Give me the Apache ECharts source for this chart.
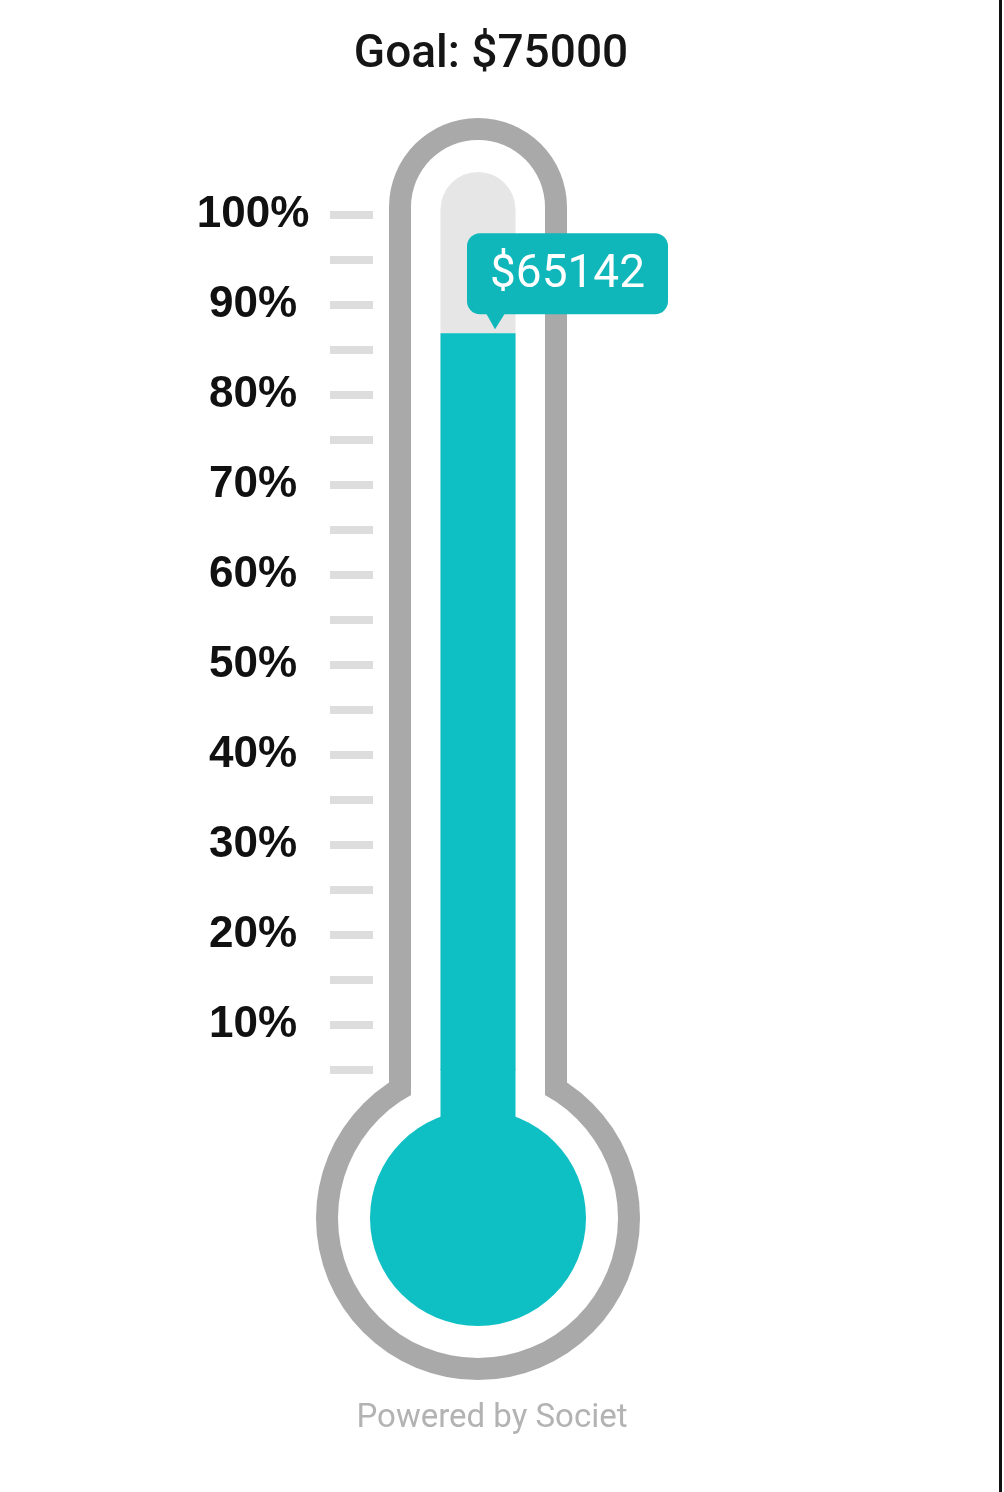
<!DOCTYPE html>
<html>
<head>
<meta charset="utf-8">
<script src="https://cdn.jsdelivr.net/npm/echarts@6/dist/echarts.min.js"></script>
<style>
html,body{margin:0;padding:0;background:#fff;}
#main{width:1004px;height:1492px;}
</style>
</head>
<body>
<div id="main"></div>
<script>
// ---- data ----
const goal = 75000;
const raised = 65142;
const categories = ['Raised'];
const raisedPct = [raised / goal * 100];
const titleText = 'Goal: $' + goal;
const calloutText = '$' + raised;
const footerText = 'Powered by Societ';

const TEAL = '#0ebfc4';
const CALLOUT = '#10b7ba';
const SHELL = '#a9a9a9';
const TUBE = '#e6e6e6';

const chart = echarts.init(document.getElementById('main'));

function shellItem(params, api) {
  const p100 = api.coord([0, 100]);
  const p5 = api.coord([0, 5]);
  const cx = p100[0];
  const top100 = p100[1];
  const bot5 = p5[1];
  const bulbY = bot5 + 148;
  const outerTop = top100 - 97;
  const innerTop = top100 - 75;
  return {
    type: 'group',
    children: [
      { type: 'rect', shape: { x: cx - 89, y: outerTop, width: 178, height: bulbY - outerTop, r: [89, 89, 0, 0] }, style: { fill: SHELL } },
      { type: 'circle', shape: { cx: cx, cy: bulbY, r: 162 }, style: { fill: SHELL } },
      { type: 'rect', shape: { x: cx - 67, y: innerTop, width: 134, height: bulbY - innerTop, r: [67, 67, 0, 0] }, style: { fill: '#fff' } },
      { type: 'circle', shape: { cx: cx, cy: bulbY, r: 140 }, style: { fill: '#fff' } },
      { type: 'rect', shape: { x: cx - 37.5, y: top100 - 43, width: 75, height: bot5 - top100 + 43, r: [37.5, 37.5, 0, 0] }, style: { fill: TUBE } }
    ]
  };
}

function bulbItem(params, api) {
  const p5 = api.coord([0, 5]);
  const cx = p5[0];
  const bulbY = p5[1] + 148;
  return {
    type: 'group',
    children: [
      { type: 'rect', shape: { x: cx - 37.5, y: p5[1] - 1, width: 75, height: bulbY - p5[1] + 1 }, style: { fill: TEAL } },
      { type: 'circle', shape: { cx: cx, cy: bulbY, r: 108 }, style: { fill: TEAL } }
    ]
  };
}

function calloutItem(params, api) {
  const p = api.coord([0, api.value(1)]);
  const cx = p[0];
  const top = p[1];
  const bx = cx - 11, by = top - 100, bw = 201, bh = 81;
  return {
    type: 'group',
    children: [
      { type: 'rect', shape: { x: bx, y: by, width: bw, height: bh, r: 13 }, style: { fill: CALLOUT } },
      { type: 'polygon', shape: { points: [[cx + 8, by + bh - 1], [cx + 27, by + bh - 1], [cx + 17, top - 4]] }, style: { fill: CALLOUT } },
      { type: 'text', style: { text: calloutText, x: bx + bw / 2, y: by + bh / 2 + 2, align: 'center', verticalAlign: 'middle', fill: '#ffffff', font: '400 46px Roboto' } }
    ]
  };
}

const option = {
  animation: false,
  backgroundColor: '#ffffff',
  title: [
    { text: titleText, left: 486, top: 27, textAlign: 'center', textStyle: { fontFamily: 'Roboto', fontSize: 46, fontWeight: 500, color: '#151515' } },
    { text: footerText, left: 487, top: 1397, textAlign: 'center', textStyle: { fontFamily: 'Roboto', fontSize: 33, fontWeight: 400, color: '#b3b3b3' } }
  ],
  grid: { left: 373, right: 421, top: 215, bottom: 422, containLabel: false },
  xAxis: { type: 'category', data: categories, show: false },
  yAxis: {
    type: 'value', min: 5, max: 100, interval: 5,
    axisLine: { show: false },
    splitLine: { show: false },
    axisTick: { show: true, length: 43, lineStyle: { width: 8, color: '#dddddd' } },
    axisLabel: {
      margin: 120, align: 'center', padding: [6, 0, 0, 0],
      fontFamily: 'Liberation Sans', fontWeight: 'bold', fontSize: 44, color: '#111111',
      formatter: v => (v % 10 === 0 ? v + '%' : '')
    }
  },
  series: [
    { type: 'custom', z: 1, data: [[0, 100]], renderItem: shellItem, silent: true },
    { type: 'bar', z: 2, data: raisedPct, barWidth: 75, itemStyle: { color: TEAL }, silent: true },
    { type: 'custom', z: 3, data: [[0, 5]], renderItem: bulbItem, silent: true },
    { type: 'custom', z: 4, data: [[0, raisedPct[0]]], renderItem: calloutItem, silent: true }
  ],
  graphic: [
    { type: 'rect', right: 2, top: 0, shape: { width: 3, height: 1492 }, style: { fill: '#111' } }
  ]
};
chart.setOption(option);
</script>
</body>
</html>
